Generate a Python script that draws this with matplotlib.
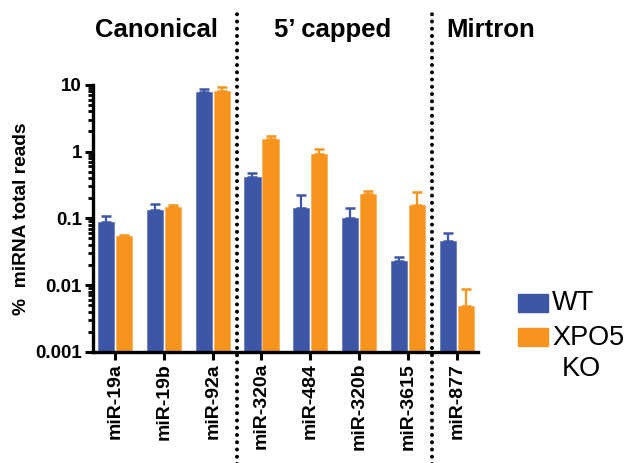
import numpy as np
import matplotlib.pyplot as plt
from matplotlib.patches import Rectangle

plt.rcParams['font.family'] = ['Liberation Sans', 'DejaVu Sans']

mirnas = ["miR-19a", "miR-19b", "miR-92a", "miR-320a", "miR-484",
          "miR-320b", "miR-3615", "miR-877"]
wt = [0.087, 0.132, 7.9, 0.42, 0.145, 0.10, 0.023, 0.045]
wt_top = [0.107, 0.166, 8.7, 0.48, 0.22, 0.145, 0.026, 0.060]
ko = [0.054, 0.15, 8.0, 1.56, 0.93, 0.23, 0.156, 0.0049]
ko_top = [0.056, 0.16, 9.3, 1.73, 1.10, 0.26, 0.25, 0.0087]
groups = ["Canonical", "5\u2019 capped", "Mirtron"]
group_x = [0.86, 4.45, 7.69]
dividers = [2.5, 6.5]

blue = "#3d56a6"
orange = "#f7941d"

fig = plt.figure(figsize=(6.28, 4.63), dpi=100)
ax = fig.add_axes([0.148, 0.240, 0.613, 0.577])

x = np.arange(len(mirnas))
w = 0.33
off = 0.185
wt_err = [np.zeros(len(wt)), np.array(wt_top) - np.array(wt)]
ko_err = [np.zeros(len(ko)), np.array(ko_top) - np.array(ko)]

ax.bar(x - off, wt, w, color=blue, edgecolor="#6a7cc0", linewidth=0.6,
       yerr=wt_err, error_kw=dict(ecolor=blue, elinewidth=1.6, capsize=3.3, capthick=1.8))
ax.bar(x + off, ko, w, color=orange, edgecolor="#f9b060", linewidth=0.6,
       yerr=ko_err, error_kw=dict(ecolor=orange, elinewidth=1.6, capsize=3.3, capthick=1.8))

ax.set_yscale("log")
ax.set_ylim(0.001, 10)
ax.set_xlim(-0.45, 7.43)
ax.set_yticks([0.001, 0.01, 0.1, 1, 10])
ax.set_yticklabels(["0.001", "0.01", "0.1", "1", "10"], fontsize=13.5, fontweight="bold")
ax.set_xticks(x)
ax.set_xticklabels(mirnas, rotation=90, fontsize=14, fontweight="bold")
ax.tick_params(axis="both", which="major", width=2.2, length=6, pad=2)
ax.tick_params(axis="y", which="minor", width=2.0, length=3.5)
ax.tick_params(axis="x", which="minor", bottom=False)

for s in ["top", "right"]:
    ax.spines[s].set_visible(False)
for s in ["left", "bottom"]:
    ax.spines[s].set_linewidth(2.4)

ax.set_ylabel("%  miRNA total reads", fontsize=13.8, fontweight="bold")
ax.yaxis.set_label_coords(-0.163, 0.5)

# dotted dividers between miRNA classes
for d in dividers:
    ax.axvline(d, ymin=-0.42, ymax=1.28, color="black", linewidth=2.9,
               linestyle=(0, (0.001, 1.8)), dash_capstyle="round", clip_on=False)

for gx, g in zip(group_x, groups):
    ax.text(gx, 1.205, g, transform=ax.get_xaxis_transform(), ha="center", va="center",
            fontsize=18.5, fontweight="bold")

# legend, drawn by hand so the swatch sits on the first line of "XPO5 KO"
fig.add_artist(Rectangle((0.825, 0.326), 0.048, 0.039, color=blue, transform=fig.transFigure))
fig.add_artist(Rectangle((0.825, 0.253), 0.048, 0.039, color=orange, transform=fig.transFigure))
fig.text(0.879, 0.3456, "WT", fontsize=19.5, ha="left", va="center")
fig.text(0.879, 0.271, "XPO5", fontsize=19.5, ha="left", va="center")
fig.text(0.925, 0.203, "KO", fontsize=19.5, ha="center", va="center")

fig.savefig("out.png", dpi=100)
